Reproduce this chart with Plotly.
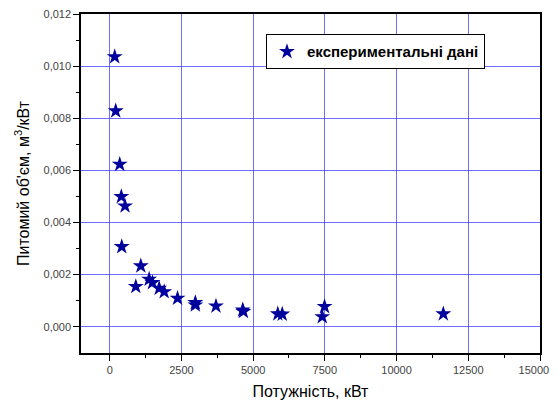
import plotly.graph_objects as go

# Data
power_kw = [175, 210, 350, 405, 535, 420, 1085, 910, 1375, 1490, 1725, 1900,
            2365, 2985, 2985, 3705, 4635, 4660, 5860, 6015, 7490, 7410, 11630]
specific_volume = [0.01036, 0.00828, 0.00623, 0.00499, 0.00463, 0.00307, 0.00233,
                   0.00154, 0.00182, 0.00169, 0.00147, 0.00134, 0.00109, 0.00092,
                   0.00083, 0.00079, 0.00064, 0.00058, 0.00049, 0.00048, 0.00077,
                   0.00038, 0.00049]

x_tickvals = [0, 2500, 5000, 7500, 10000, 12500, 15000]
x_ticktext = ["0", "2500", "5000", "7500", "10000", "12500", "15000"]
y_tickvals = [0.0, 0.002, 0.004, 0.006, 0.008, 0.010, 0.012]
y_ticktext = ["0,000", "0,002", "0,004", "0,006", "0,008", "0,010", "0,012"]

series_name = "<b>експериментальні дані</b>"
x_title = "Потужність, кВт"
y_title = "Питомий об'єм, м<sup>3</sup>/кВт"

FONT = "Liberation Sans, Arial, sans-serif"
GRID = "rgba(50,50,255,0.7)"

# the last x label sits at the page edge; pad it so it is not cut off
x_ticktext_shown = x_ticktext[:-1] + [x_ticktext[-1] + "\u00a0" * 4]

fig = go.Figure()
fig.add_trace(go.Scatter(
    x=power_kw, y=specific_volume, mode="markers", name=series_name,
    marker=dict(symbol="star", size=12, color="#00009c",
                line=dict(width=0)),
    showlegend=True,
))

# page body has an 8px default margin on every side; keep the figure inside the
# 558x408 window so no scrollbars appear
fig.update_layout(
    width=542, height=392,
    margin=dict(l=73, r=10, t=6, b=47),
    paper_bgcolor="white", plot_bgcolor="white",
    font=dict(family=FONT, color="#000"),
    showlegend=True,
    legend=dict(x=0.403, y=0.94, xanchor="left", yanchor="top",
                bordercolor="#000", borderwidth=1, bgcolor="white",
                font=dict(family=FONT, size=15, color="#000"),
                tracegroupgap=0, itemsizing="constant"),
)

fig.update_xaxes(
    range=[-1000, 15000], automargin=False, ticklabeloverflow="allow",
    tickmode="array", tickvals=x_tickvals, ticktext=x_ticktext_shown,
    tickfont=dict(family=FONT, size=11, color="#444"),
    ticks="outside", ticklen=6, tickwidth=1, tickcolor="#000",
    minor=dict(tickmode="array", tickvals=[1250, 3750, 6250, 8750, 11250, 13750],
               ticks="outside", ticklen=3, tickcolor="#000", showgrid=False),
    showline=True, linecolor="#000", linewidth=1.5, mirror=True,
    showgrid=True, gridcolor=GRID, gridwidth=1, zeroline=False,
    title=dict(text=x_title, font=dict(family=FONT, size=16, color="#000"), standoff=14),
)
fig.update_yaxes(
    range=[-0.00101, 0.012], automargin=False, ticklabeloverflow="allow",
    tickmode="array", tickvals=y_tickvals, ticktext=y_ticktext,
    tickfont=dict(family=FONT, size=11, color="#444"),
    ticks="outside", ticklen=6, tickwidth=1, tickcolor="#000",
    minor=dict(tickmode="array", tickvals=[0.001, 0.003, 0.005, 0.007, 0.009, 0.011],
               ticks="outside", ticklen=3, tickcolor="#000", showgrid=False),
    showline=True, linecolor="#000", linewidth=1.5, mirror=True,
    showgrid=True, gridcolor=GRID, gridwidth=1, zeroline=False,
    title=dict(text=y_title, font=dict(family=FONT, size=16, color="#000"), standoff=10),
)

fig.write_html("out.html")
